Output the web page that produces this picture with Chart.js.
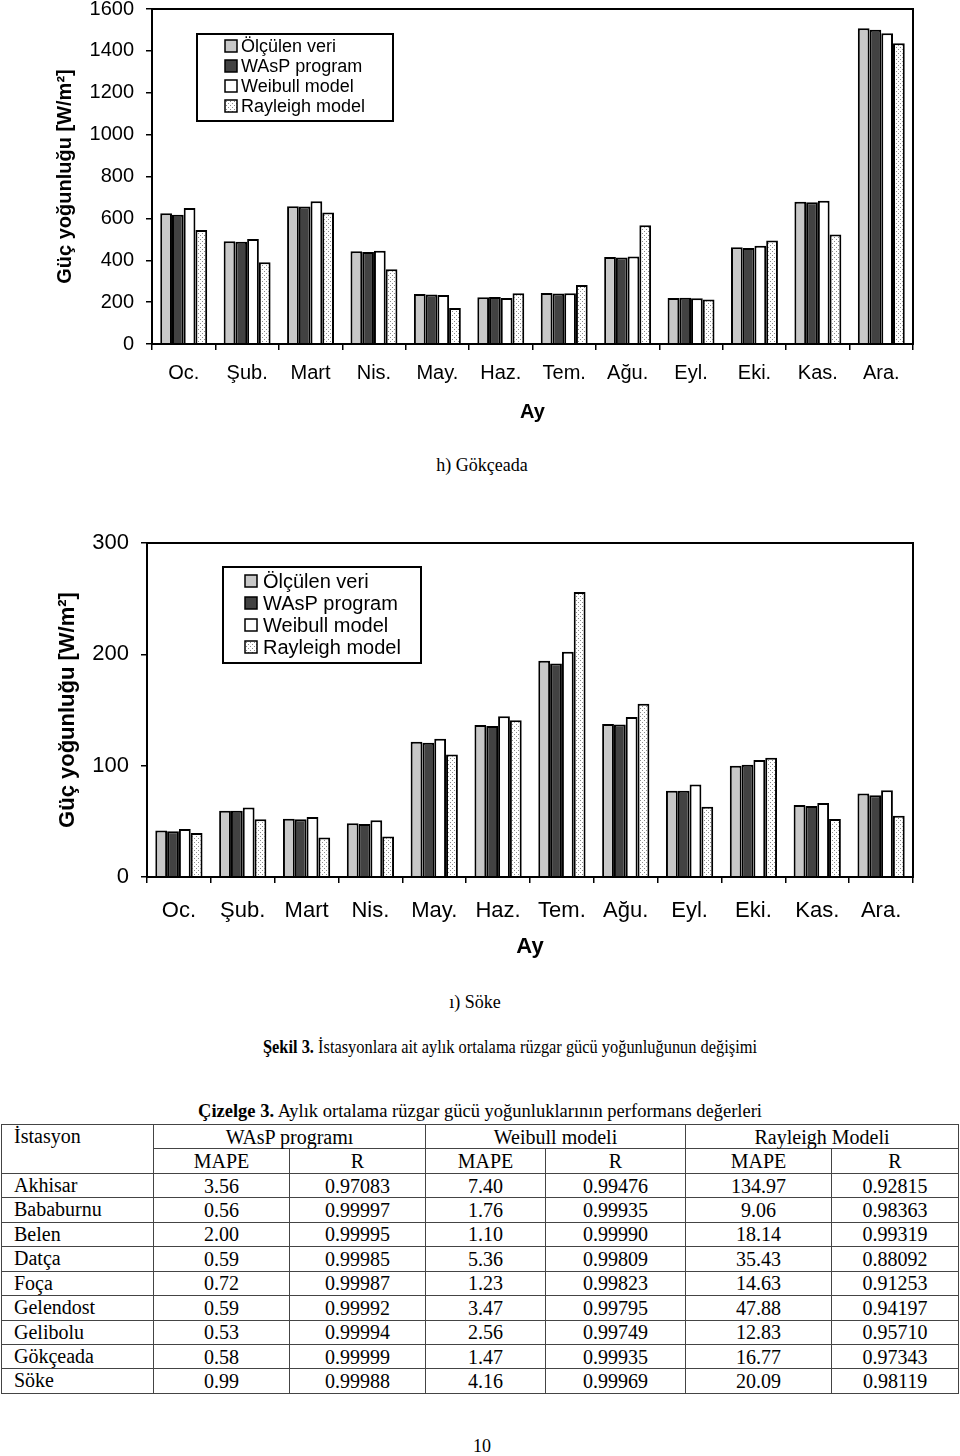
<!DOCTYPE html>
<html>
<head>
<meta charset="utf-8">
<script src="https://cdn.jsdelivr.net/npm/chart.js@4.4.1/dist/chart.umd.min.js"></script>
<style>
  body { margin:0; background:#fff; width:960px; height:1456px; position:relative; overflow:hidden;
         font-family:"Liberation Serif","Times New Roman",serif; color:#000; }
  canvas { position:absolute; left:0; }
  .cap { position:absolute; left:0; width:960px; text-align:center; font-size:18px; line-height:20px; white-space:nowrap; }
  table { position:absolute; left:1px; top:1124px; width:958px; border-collapse:collapse; table-layout:fixed; font-size:20px; }
  td { border:1px solid #444; text-align:center; padding:0; line-height:22px; }
  tr { height:24.45px; }
  td.st { text-align:left; padding-left:12px; vertical-align:top; }
</style>
</head>
<body>
<canvas id="gok" width="960" height="461" style="top:-21px"></canvas>
<div class="cap" style="top:455px;left:2px">h) Gökçeada</div>
<canvas id="soke" width="960" height="450" style="top:520px"></canvas>
<div class="cap" style="top:992px;left:-5px">ı) Söke</div>
<div class="cap" style="top:1037px;left:30px;transform:scaleX(0.91)"><b>Şekil 3.</b> İstasyonlara ait aylık ortalama rüzgar gücü yoğunluğunun değişimi</div>
<div class="cap" style="top:1101px;font-size:18.5px"><b>Çizelge 3.</b> Aylık ortalama rüzgar gücü yoğunluklarının performans değerleri</div>
<table id="tbl"></table>
<div class="cap" style="top:1436px;left:2px">10</div>

<script>
// categories and series
const months = ['Oc.', 'Şub.', 'Mart', 'Nis.', 'May.', 'Haz.', 'Tem.', 'Ağu.', 'Eyl.', 'Eki.', 'Kas.', 'Ara.'];
const seriesNames = ['Ölçülen veri', 'WAsP program', 'Weibull model', 'Rayleigh model'];

// h) Gökçeada
const gokMeasured = [625, 491, 658, 443, 239, 223, 244, 416, 220, 462, 679, 1508];
const gokWasp     = [617, 488, 657, 440, 237, 225, 241, 413, 221, 459, 677, 1501];
const gokWeibull  = [649, 502, 682, 445, 234, 220, 242, 418, 218, 469, 684, 1484];
const gokRayleigh = [545, 390, 628, 357, 172, 242, 282, 567, 212, 494, 523, 1437];
const gokTicks = [0, 200, 400, 600, 800, 1000, 1200, 1400, 1600];

// ı) Söke
const sokeMeasured = [41.7, 59.5, 52.4, 48.2, 121.4, 136.6, 194.3, 137.5, 77.4, 100.0, 64.6, 75.0];
const sokeWasp     = [41.0, 59.5, 51.8, 47.6, 120.5, 135.7, 191.7, 136.9, 77.4, 100.9, 63.7, 73.5];
const sokeWeibull  = [43.2, 62.5, 53.9, 50.9, 124.1, 144.3, 202.4, 143.8, 83.0, 105.0, 66.4, 78.0];
const sokeRayleigh = [39.6, 51.8, 35.4, 36.3, 110.1, 140.8, 256.0, 155.7, 63.1, 107.1, 52.1, 55.0];
const sokeTicks = [0, 100, 200, 300];

// Çizelge 3
const stations   = ['Akhisar', 'Bababurnu', 'Belen', 'Datça', 'Foça', 'Gelendost', 'Gelibolu', 'Gökçeada', 'Söke'];
const waspMape   = ['3.56', '0.56', '2.00', '0.59', '0.72', '0.59', '0.53', '0.58', '0.99'];
const waspR      = ['0.97083', '0.99997', '0.99995', '0.99985', '0.99987', '0.99992', '0.99994', '0.99999', '0.99988'];
const weibullMape = ['7.40', '1.76', '1.10', '5.36', '1.23', '3.47', '2.56', '1.47', '4.16'];
const weibullR   = ['0.99476', '0.99935', '0.99990', '0.99809', '0.99823', '0.99795', '0.99749', '0.99935', '0.99969'];
const rayMape    = ['134.97', '9.06', '18.14', '35.43', '14.63', '47.88', '12.83', '16.77', '20.09'];
const rayR       = ['0.92815', '0.98363', '0.99319', '0.88092', '0.91253', '0.94197', '0.95710', '0.97343', '0.98119'];

Chart.defaults.font.family = '"Liberation Sans", Arial, sans-serif';
Chart.defaults.color = '#000';

// white with small grey dots, like the Rayleigh bars
function dotPattern() {
  const c = document.createElement('canvas');
  c.width = 4; c.height = 4;
  const g = c.getContext('2d');
  g.fillStyle = '#fff'; g.fillRect(0, 0, 4, 4);
  g.fillStyle = '#8c8c8c';
  g.fillRect(0, 0, 1, 1); g.fillRect(2, 2, 1, 1);
  return g.createPattern(c, 'repeat');
}
const dots = dotPattern();
const fills = ['#c8c8c8', '#424242', '#ffffff', dots];

// frame around the plot area
const frame = {
  id: 'frame',
  afterDraw(chart) {
    const a = chart.chartArea, ctx = chart.ctx;
    ctx.save();
    ctx.lineWidth = 2; ctx.strokeStyle = '#000';
    ctx.strokeRect(a.left, a.top, a.right - a.left, a.bottom - a.top);
    ctx.restore();
  }
};

// boxed legend inside the plot
const boxLegend = {
  id: 'boxLegend',
  afterDraw(chart, args, o) {
    const ctx = chart.ctx;
    ctx.save();
    ctx.fillStyle = '#fff';
    ctx.fillRect(o.x, o.y, o.w, o.h);
    ctx.lineWidth = 2; ctx.strokeStyle = '#000';
    ctx.strokeRect(o.x, o.y, o.w, o.h);
    ctx.font = o.size + 'px "Liberation Sans", Arial, sans-serif';
    ctx.textBaseline = 'middle';
    chart.data.datasets.forEach((ds, i) => {
      const cy = o.y + o.first + i * o.gap;
      ctx.fillStyle = ds.backgroundColor;
      ctx.fillRect(o.x + o.sx, cy - o.sw / 2, o.sw, o.sw);
      ctx.lineWidth = 1.5;
      ctx.strokeRect(o.x + o.sx, cy - o.sw / 2, o.sw, o.sw);
      ctx.fillStyle = '#000';
      ctx.fillText(ds.label, o.x + o.tx, cy + 1);
    });
    ctx.restore();
  }
};

function makeChart(id, series, ticks, s) {
  const ctx = document.getElementById(id).getContext('2d');
  return new Chart(ctx, {
    type: 'bar',
    data: {
      labels: months,
      datasets: series.map((d, i) => ({
        label: seriesNames[i], data: d,
        backgroundColor: fills[i], borderColor: '#000', borderWidth: 2,
        categoryPercentage: 0.74, barPercentage: 1.0
      }))
    },
    options: {
      responsive: false, animation: false, devicePixelRatio: 1,
      layout: { padding: { top: s.top, right: 47, left: 0, bottom: 0 } },
      plugins: {
        legend: { display: false }, tooltip: { enabled: false },
        boxLegend: s.legend
      },
      scales: {
        x: {
          grid: { offset: true, drawOnChartArea: false, drawTicks: true, tickLength: 6, color: '#000', lineWidth: 1.5 },
          border: { display: true, color: '#000', width: 2 },
          ticks: { font: { size: s.xSize }, padding: s.xPad, maxRotation: 0, autoSkip: false },
          title: { display: true, text: 'Ay', font: { size: s.aySize, weight: 'bold' }, padding: { top: 0, bottom: s.ayPad } },
          afterFit: sc => { sc.height = s.xHeight; }
        },
        y: {
          min: ticks[0], max: ticks[ticks.length - 1],
          grid: { drawOnChartArea: false, drawTicks: true, tickLength: 6, color: '#000', lineWidth: 1.5 },
          border: { display: true, color: '#000', width: 2 },
          ticks: { stepSize: ticks[1] - ticks[0], font: { size: s.ySize, lineHeight: 1 }, padding: 12, callback: v => String(v) },
          title: { display: true, text: 'Güç yoğunluğu [W/m²]', font: { size: s.tSize, weight: 'bold' }, padding: { top: s.tPad, bottom: 0 } },
          afterFit: sc => { sc.width = s.yWidth; }
        }
      }
    },
    plugins: [frame, boxLegend]
  });
}

makeChart('gok', [gokMeasured, gokWasp, gokWeibull, gokRayleigh], gokTicks, {
  top: 30, xSize: 20, xPad: 11, aySize: 20, ayPad: 16, xHeight: 96, ySize: 20, tSize: 20, tPad: 53, yWidth: 152,
  legend: { x: 197, y: 55, w: 196, h: 87, first: 12, gap: 20, sx: 28, sw: 12, tx: 44, size: 18 }
});

makeChart('soke', [sokeMeasured, sokeWasp, sokeWeibull, sokeRayleigh], sokeTicks, {
  top: 21, xSize: 22, xPad: 15, aySize: 22, ayPad: 10, xHeight: 93, ySize: 22, tSize: 22, tPad: 55, yWidth: 147,
  legend: { x: 223, y: 47, w: 198, h: 96, first: 14, gap: 22, sx: 22, sw: 12, tx: 40, size: 20 }
});

// table
const widths = [152, 136, 136, 120, 140, 146, 127];
let html = '<colgroup>' + widths.map(w => '<col style="width:' + w + 'px">').join('') + '</colgroup>';
html += '<tr><td class="st" rowspan="2">İstasyon</td><td colspan="2">WAsP programı</td><td colspan="2">Weibull modeli</td><td colspan="2">Rayleigh Modeli</td></tr>';
html += '<tr>' + ['MAPE', 'R', 'MAPE', 'R', 'MAPE', 'R'].map(t => '<td>' + t + '</td>').join('') + '</tr>';
stations.forEach((st, i) => {
  const cells = [waspMape[i], waspR[i], weibullMape[i], weibullR[i], rayMape[i], rayR[i]];
  html += '<tr><td class="st">' + st + '</td>' + cells.map(t => '<td>' + t + '</td>').join('') + '</tr>';
});
document.getElementById('tbl').innerHTML = html;
</script>
</body>
</html>
